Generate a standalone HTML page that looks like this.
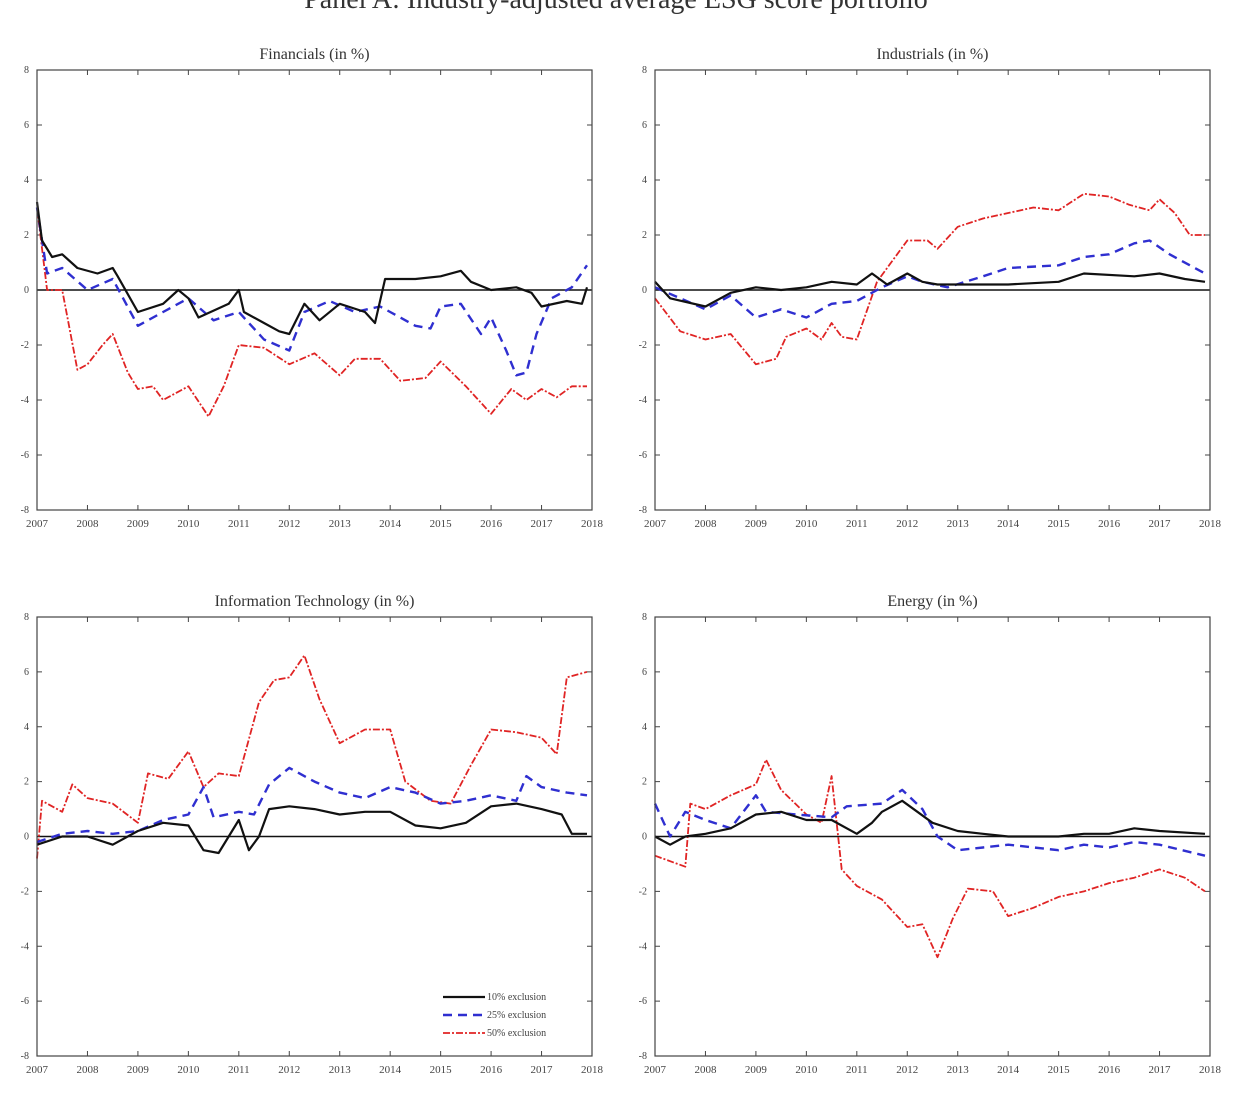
<!DOCTYPE html>
<html><head><meta charset="utf-8"><style>
html,body{margin:0;padding:0;background:#fff;}
svg{display:block;font-family:"Liberation Serif",serif;}
</style></head><body>
<svg id="c" width="1233" height="1098" viewBox="0 0 1233 1098">
<text x="616" y="8" text-anchor="middle" font-size="28" fill="#333">Panel A: Industry-adjusted average ESG score portfolio</text>
</svg>
<script>
const xTicks=[2007,2008,2009,2010,2011,2012,2013,2014,2015,2016,2017,2018];
const yTicks=[-8,-6,-4,-2,0,2,4,6,8];
const panelTitles=["Financials (in %)","Industrials (in %)","Information Technology (in %)","Energy (in %)"];
const finBlack=[[2007,3.2],[2007.1,1.8],[2007.3,1.2],[2007.5,1.3],[2007.8,0.8],[2008.2,0.6],[2008.5,0.8],[2008.6,0.5],[2009,-0.8],[2009.5,-0.5],[2009.8,0],[2010,-0.3],[2010.2,-1.0],[2010.8,-0.5],[2011,0],[2011.1,-0.8],[2011.5,-1.2],[2011.8,-1.5],[2012,-1.6],[2012.3,-0.5],[2012.6,-1.1],[2013,-0.5],[2013.5,-0.8],[2013.7,-1.2],[2013.9,0.4],[2014.5,0.4],[2015,0.5],[2015.4,0.7],[2015.6,0.3],[2016,0],[2016.5,0.1],[2016.8,-0.1],[2017,-0.6],[2017.5,-0.4],[2017.8,-0.5],[2017.9,0.1]];
const finBlue=[[2007,3.0],[2007.2,0.6],[2007.5,0.8],[2008,0.0],[2008.5,0.4],[2009,-1.3],[2009.5,-0.8],[2010,-0.3],[2010.5,-1.1],[2011,-0.8],[2011.5,-1.8],[2012,-2.2],[2012.3,-0.8],[2012.8,-0.4],[2013.3,-0.8],[2013.8,-0.6],[2014,-0.8],[2014.5,-1.3],[2014.8,-1.4],[2015,-0.6],[2015.4,-0.5],[2015.8,-1.6],[2016,-1.0],[2016.3,-2.2],[2016.5,-3.1],[2016.7,-3.0],[2016.9,-1.6],[2017.2,-0.3],[2017.6,0.1],[2017.9,0.9]];
const finRed=[[2007,3.0],[2007.2,0],[2007.5,0],[2007.8,-2.9],[2008,-2.7],[2008.3,-2.0],[2008.5,-1.6],[2008.8,-3.0],[2009,-3.6],[2009.3,-3.5],[2009.5,-4.0],[2010,-3.5],[2010.4,-4.6],[2010.7,-3.5],[2011,-2.0],[2011.5,-2.1],[2012,-2.7],[2012.5,-2.3],[2013,-3.1],[2013.3,-2.5],[2013.8,-2.5],[2014.2,-3.3],[2014.7,-3.2],[2015,-2.6],[2015.5,-3.5],[2016,-4.5],[2016.4,-3.6],[2016.7,-4.0],[2017,-3.6],[2017.3,-3.9],[2017.6,-3.5],[2017.9,-3.5]];
const indBlack=[[2007,0.3],[2007.3,-0.3],[2008,-0.6],[2008.5,-0.1],[2009,0.1],[2009.5,0],[2010,0.1],[2010.5,0.3],[2011,0.2],[2011.3,0.6],[2011.6,0.2],[2012,0.6],[2012.3,0.3],[2012.6,0.2],[2013,0.2],[2014,0.2],[2015,0.3],[2015.5,0.6],[2016.5,0.5],[2017,0.6],[2017.5,0.4],[2017.9,0.3]];
const indBlue=[[2007,0.1],[2008,-0.7],[2008.5,-0.2],[2009,-1.0],[2009.5,-0.7],[2010,-1.0],[2010.5,-0.5],[2011,-0.4],[2011.5,0.1],[2012,0.5],[2012.3,0.3],[2012.8,0.1],[2013.5,0.5],[2014,0.8],[2015,0.9],[2015.5,1.2],[2016,1.3],[2016.5,1.7],[2016.8,1.8],[2017.2,1.3],[2017.9,0.6]];
const indRed=[[2007,-0.3],[2007.5,-1.5],[2008,-1.8],[2008.5,-1.6],[2009,-2.7],[2009.4,-2.5],[2009.6,-1.7],[2010,-1.4],[2010.3,-1.8],[2010.5,-1.2],[2010.7,-1.7],[2011,-1.8],[2011.4,0.3],[2011.6,0.8],[2012,1.8],[2012.4,1.8],[2012.6,1.5],[2013,2.3],[2013.5,2.6],[2014,2.8],[2014.5,3.0],[2015,2.9],[2015.5,3.5],[2016,3.4],[2016.4,3.1],[2016.8,2.9],[2017,3.3],[2017.3,2.8],[2017.6,2.0],[2017.9,2.0]];
const itBlack=[[2007,-0.3],[2007.5,0],[2008,0],[2008.5,-0.3],[2009,0.2],[2009.5,0.5],[2010,0.4],[2010.3,-0.5],[2010.6,-0.6],[2011,0.6],[2011.2,-0.5],[2011.4,0],[2011.6,1.0],[2012,1.1],[2012.5,1.0],[2013,0.8],[2013.5,0.9],[2014,0.9],[2014.5,0.4],[2015,0.3],[2015.5,0.5],[2016,1.1],[2016.5,1.2],[2017,1.0],[2017.4,0.8],[2017.6,0.1],[2017.9,0.1]];
const itBlue=[[2007,-0.2],[2007.5,0.1],[2008,0.2],[2008.5,0.1],[2009,0.2],[2009.5,0.6],[2010,0.8],[2010.3,1.8],[2010.5,0.7],[2011,0.9],[2011.3,0.8],[2011.6,1.9],[2012,2.5],[2012.5,2.0],[2013,1.6],[2013.5,1.4],[2014,1.8],[2014.5,1.6],[2015,1.2],[2015.5,1.3],[2016,1.5],[2016.5,1.3],[2016.7,2.2],[2017,1.8],[2017.5,1.6],[2017.9,1.5]];
const itRed=[[2007,-0.8],[2007.1,1.3],[2007.5,0.9],[2007.7,1.9],[2008,1.4],[2008.5,1.2],[2009,0.5],[2009.2,2.3],[2009.6,2.1],[2010,3.1],[2010.3,1.8],[2010.6,2.3],[2011,2.2],[2011.4,4.9],[2011.7,5.7],[2012,5.8],[2012.3,6.6],[2012.6,5.0],[2013,3.4],[2013.5,3.9],[2014,3.9],[2014.3,2.0],[2014.8,1.3],[2015.2,1.2],[2015.6,2.6],[2016,3.9],[2016.5,3.8],[2017,3.6],[2017.3,3.0],[2017.5,5.8],[2017.9,6.0]];
const enBlack=[[2007,0],[2007.3,-0.3],[2007.6,0],[2008,0.1],[2008.5,0.3],[2009,0.8],[2009.5,0.9],[2010,0.6],[2010.5,0.6],[2011,0.1],[2011.3,0.5],[2011.5,0.9],[2011.9,1.3],[2012.2,0.9],[2012.5,0.5],[2013,0.2],[2013.5,0.1],[2014,0],[2015,0],[2015.5,0.1],[2016,0.1],[2016.5,0.3],[2017,0.2],[2017.9,0.1]];
const enBlue=[[2007,1.2],[2007.3,0],[2007.6,0.9],[2008,0.6],[2008.5,0.3],[2009,1.5],[2009.2,0.9],[2009.8,0.8],[2010.5,0.7],[2010.8,1.1],[2011.5,1.2],[2011.9,1.7],[2012.3,1.0],[2012.6,0],[2013,-0.5],[2013.5,-0.4],[2014,-0.3],[2015,-0.5],[2015.5,-0.3],[2016,-0.4],[2016.5,-0.2],[2017,-0.3],[2017.9,-0.7]];
const enRed=[[2007,-0.7],[2007.3,-0.9],[2007.6,-1.1],[2007.7,1.2],[2008,1.0],[2008.5,1.5],[2009,1.9],[2009.2,2.8],[2009.5,1.7],[2010,0.8],[2010.3,0.5],[2010.5,2.2],[2010.7,-1.2],[2011,-1.8],[2011.5,-2.3],[2012,-3.3],[2012.3,-3.2],[2012.6,-4.4],[2012.9,-3.0],[2013.2,-1.9],[2013.7,-2.0],[2014,-2.9],[2014.5,-2.6],[2015,-2.2],[2015.5,-2.0],[2016,-1.7],[2016.5,-1.5],[2017,-1.2],[2017.5,-1.5],[2017.9,-2.0]];
const legendLabels=["10% exclusion","25% exclusion","50% exclusion"];

const NS="http://www.w3.org/2000/svg";
const svg=document.getElementById('c');
function mk(tag,attrs,parent){const e=document.createElementNS(NS,tag);for(const k in attrs)e.setAttribute(k,attrs[k]);(parent||svg).appendChild(e);return e;}
const panels=[
 {x0:37,x1:592,y0:70,y1:510,s:[finBlack,finBlue,finRed],n:"financials"},
 {x0:655,x1:1210,y0:70,y1:510,s:[indBlack,indBlue,indRed],n:"industrials"},
 {x0:37,x1:592,y0:617,y1:1056,s:[itBlack,itBlue,itRed],n:"information-technology"},
 {x0:655,x1:1210,y0:617,y1:1056,s:[enBlack,enBlue,enRed],n:"energy"}];
const styles=[{c:"#111",d:"",w:2.2,n:"10pct"},{c:"#2f2fd0",d:"9,6",w:2.4,n:"25pct"},{c:"#e02424",d:"7,2,2,2",w:1.8,n:"50pct"}];
panels.forEach((p,i)=>{
 const g=mk('g',{});
 
 
 const X=t=>p.x0+(t-2007)/(2018-2007)*(p.x1-p.x0);
 const Y=v=>p.y0+(8-v)/16*(p.y1-p.y0);
 const t=mk('text',{x:(p.x0+p.x1)/2,y:p.y0-11,'text-anchor':'middle','font-size':16,fill:'#333'},g);
 t.textContent=panelTitles[i];
 
 
 xTicks.forEach(v=>{
  const x=X(v);
  mk('line',{x1:x,x2:x,y1:p.y1,y2:p.y1-5,stroke:'#444'},g);
  mk('line',{x1:x,x2:x,y1:p.y0,y2:p.y0+5,stroke:'#444'},g);
  const l=mk('text',{x:x,y:p.y1+17,'text-anchor':'middle','font-size':11,fill:'#444'},g);
  l.textContent=v;
  
  
 });
 yTicks.forEach(v=>{
  const y=Y(v);
  mk('line',{x1:p.x0,x2:p.x0+5,y1:y,y2:y,stroke:'#444'},g);
  mk('line',{x1:p.x1,x2:p.x1-5,y1:y,y2:y,stroke:'#444'},g);
  const l=mk('text',{x:p.x0-8,y:y+3,'text-anchor':'end','font-size':10,fill:'#444'},g);
  l.textContent=v;
  
  
 });
 const z=mk('line',{x1:p.x0,x2:p.x1,y1:Y(0),y2:Y(0),stroke:'#111','stroke-width':1.5},g);
 
 
 [2,1,0].forEach(k=>{
  const st=styles[k];
  const d=p.s[k].map((q,j)=>(j?'L':'M')+X(q[0]).toFixed(1)+','+Y(q[1]).toFixed(1)).join(' ');
  const path=mk('path',{d:d,fill:'none',stroke:st.c,'stroke-width':st.w,'stroke-dasharray':st.d,'stroke-linejoin':'round'},g);
  
  
 });
 const b=mk('rect',{x:p.x0,y:p.y0,width:p.x1-p.x0,height:p.y1-p.y0,fill:'none',stroke:'#444','stroke-width':1.2},g);
 
 
});
const lg=mk('g',{});


legendLabels.forEach((s,k)=>{
 const y=997+k*18, st=styles[k];
 mk('line',{x1:443,x2:485,y1:y,y2:y,stroke:st.c,'stroke-width':st.w,'stroke-dasharray':st.d},lg);
 const t=mk('text',{x:487,y:y+3,'font-size':10,fill:'#444'},lg);
 t.textContent=s;
 
 
});
</script>
</body></html>
